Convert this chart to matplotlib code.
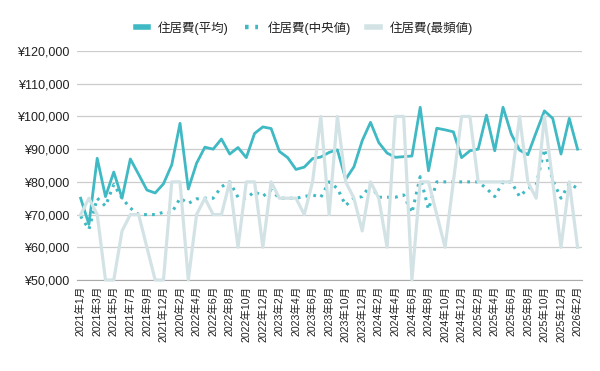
import matplotlib
matplotlib.use("Agg")
import matplotlib.pyplot as plt
from matplotlib.ticker import FuncFormatter

plt.rcParams['font.family'] = ['Liberation Sans', 'Noto Sans CJK JP', 'DejaVu Sans']

# months (one label in the source reads 2020年2月)
months = (["2021年%d月" % m for m in range(1, 10)] + ["2021年11月", "2021年12月", "2022年1月", "2020年2月"]
          + ["2022年%d月" % m for m in range(3, 13)]
          + ["2023年%d月" % m for m in range(1, 13)]
          + ["2024年%d月" % m for m in range(1, 13)]
          + ["2025年%d月" % m for m in range(1, 13)]
          + ["2026年1月", "2026年2月"])

avg = [75000, 67000, 87200, 75500, 83000, 75000, 87000, 82300, 77500, 76600,
       79400, 85200, 97900, 77800, 85700, 90600, 90000, 93100, 88500, 90500,
       87400, 94800, 96800, 96300, 89300, 87400, 83800, 84500, 87100, 87600,
       89000, 89800, 80800, 84600, 92600, 98200, 92000, 88800, 87500, 87700,
       87900, 102800, 83400, 96400, 95900, 95300, 87400, 89500, 90000, 100400,
       89500, 102800, 94600, 89700, 88300, 95100, 101700, 99400, 88500, 99400, 90000]

median = [69500, 65500, 75000, 72600, 79200, 75000, 72000, 70000, 70000, 70000,
          70700, 70500, 75000, 73400, 74800, 75000, 75000, 78500, 80000, 75300,
          75000, 77000, 75600, 77500, 75000, 75000, 75000, 75500, 76000, 75300,
          80000, 78000, 72800, 75000, 75500, 79000, 75300, 75300, 75300, 76000,
          70500, 81600, 71600, 80000, 80000, 80000, 80000, 80000, 80000, 78000,
          75500, 80000, 80000, 75500, 78000, 79000, 90000, 80500, 75000, 79500, 78000]

mode = [70000, 75000, 70000, 50000, 50000, 65000, 70000, 70000, 60000, 50000,
        50000, 80000, 80000, 50000, 70000, 75000, 70000, 70000, 80000, 60000,
        80000, 80000, 60000, 80000, 75000, 75000, 75000, 70000, 80000, 100000,
        70000, 100000, 80000, 75000, 65000, 80000, 75000, 60000, 100000, 100000,
        50000, 80000, 80000, 70000, 60000, 80000, 100000, 100000, 80000, 80000,
        80000, 80000, 80000, 100000, 80000, 75000, 100000, 80000, 60000, 80000, 60000]

teal = '#3fb9c3'
light = '#d3e3e5'

fig = plt.figure(figsize=(6, 3.71), dpi=100)
ax = fig.add_axes([0.1275, 0.2453, 0.842, 0.6172])

x = list(range(len(months)))
ax.plot(x, avg, color=teal, lw=2, label='住居費(平均)', zorder=3, clip_on=False)
ax.plot(x, median, color=teal, lw=2.2, ls=(0, (0.9, 1.7)), label='住居費(中央値)', zorder=2, clip_on=False)
ax.plot(x, mode, color=light, lw=2.3, label='住居費(最頻値)', zorder=4, clip_on=False)

ax.set_xlim(-0.5, len(months) - 0.5)
ax.set_ylim(50000, 120000)
ax.set_yticks(range(50000, 120001, 10000))
ax.yaxis.set_major_formatter(FuncFormatter(lambda v, p: '¥{:,.0f}'.format(v)))
ax.set_xticks(x[::2])
ax.set_xticklabels(months[::2], rotation=90, fontsize=7.6, color='#222222')
ax.tick_params(axis='y', labelsize=9, colors='#222222', length=0, pad=5)
ax.tick_params(axis='x', length=0, pad=4)

ax.grid(axis='y', color='#cccccc', lw=0.9)
ax.set_axisbelow(True)
for s in ['top', 'right', 'left']:
    ax.spines[s].set_visible(False)
ax.spines['bottom'].set_color('#aaaaaa')

fig.legend(loc='center', bbox_to_anchor=(0.507, 0.925), ncol=3, frameon=False,
           fontsize=9, handlelength=1.0, handletextpad=0.8, columnspacing=1.3,
           labelcolor='#222222')
leg = fig.legends[0]
handles = leg.get_lines()
for h in handles:
    h.set_linewidth(4)
handles[1].set_linewidth(3.2)
handles[1].set_linestyle((0, (0.8, 1.5)))

fig.savefig('out.png', dpi=100)
